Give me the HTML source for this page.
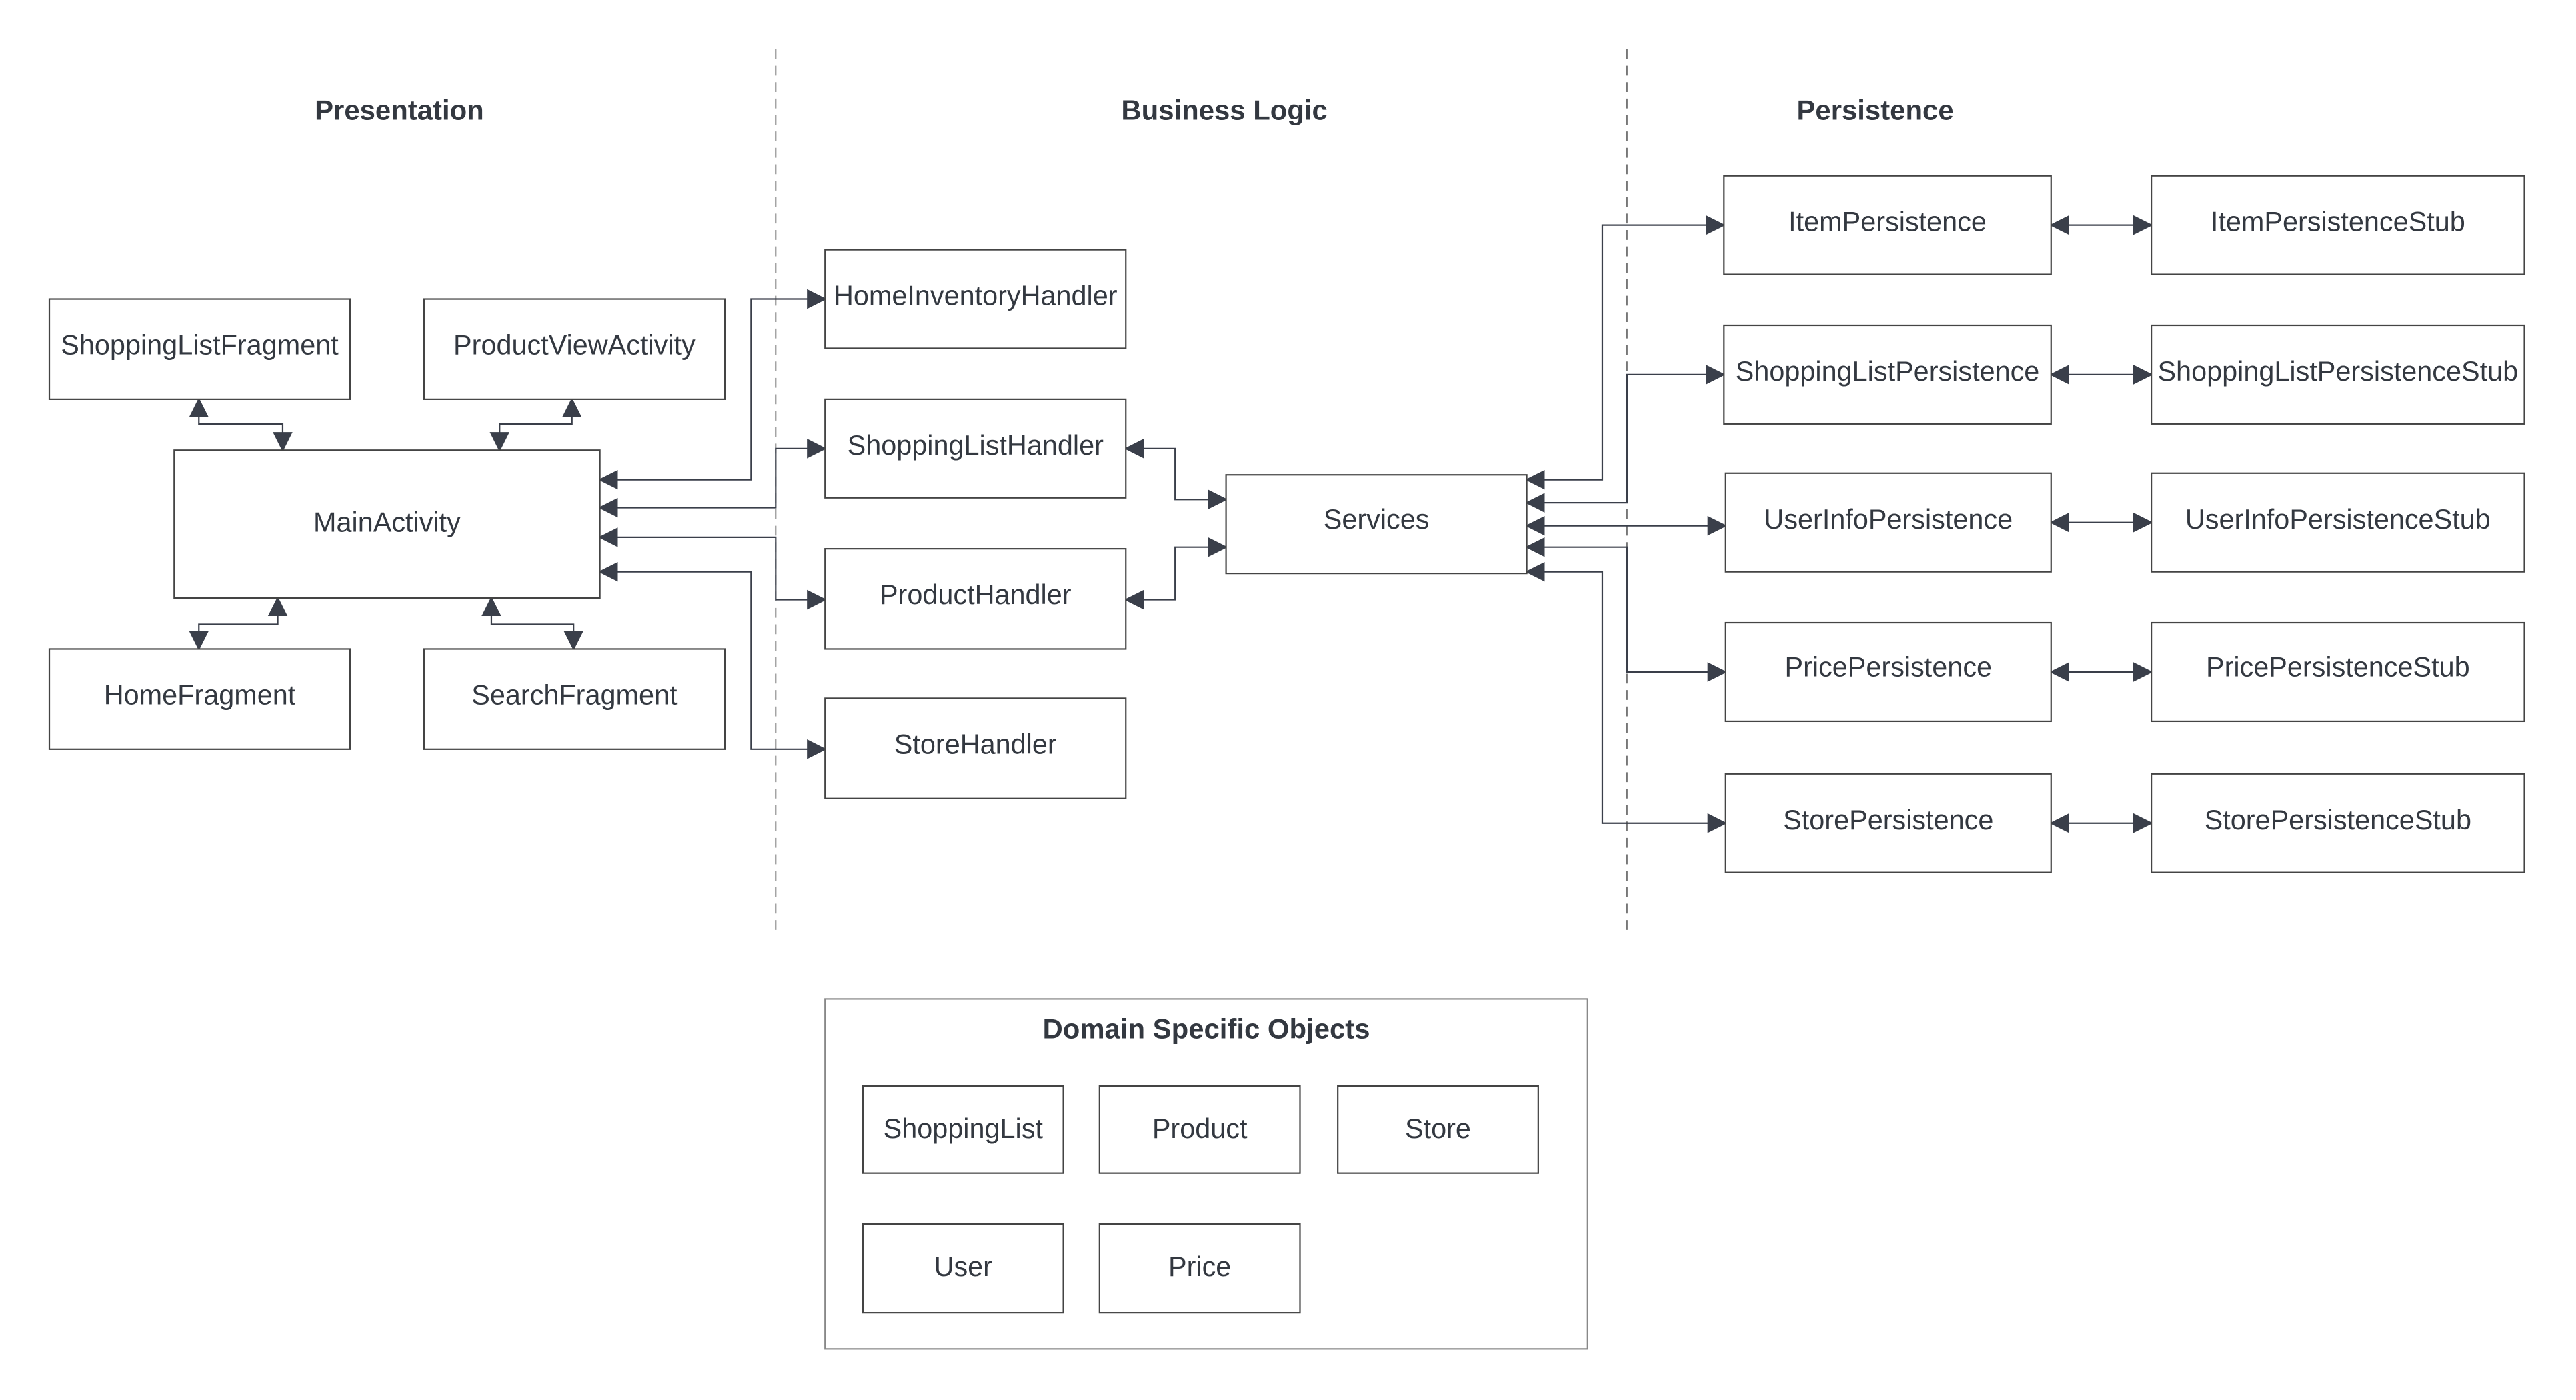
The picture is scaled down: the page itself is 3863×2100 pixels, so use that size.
<!DOCTYPE html>
<html><head><meta charset="utf-8"><style>
html,body{margin:0;padding:0;background:#fff;}
svg{display:block;}
text{font-family:"Liberation Sans",sans-serif;fill:#333840;}
.t{font-size:16.8px;text-anchor:middle;dominant-baseline:central;}
.h{font-size:17px;font-weight:bold;text-anchor:middle;dominant-baseline:central;}
rect{fill:#fff;stroke:#444;stroke-width:0.9;}
.c{fill:none;stroke:#3a3f4a;stroke-width:0.9;}
</style></head><body>
<svg width="3863" height="2100" viewBox="0 0 1567.4 852.1" xmlns="http://www.w3.org/2000/svg">
<defs>
<marker id="a" markerUnits="userSpaceOnUse" markerWidth="12" markerHeight="14" refX="11" refY="6" orient="auto-start-reverse" viewBox="0 0 12 12">
<path d="M0,0 L12,6 L0,12 Z" fill="#3a3f4a"/></marker>
</defs>
<text class="h" x="243" y="67">Presentation</text>
<text class="h" x="745" y="67">Business Logic</text>
<text class="h" x="1141" y="67">Persistence</text>
<line x1="472" y1="30" x2="472" y2="570" stroke="#777" stroke-width="0.8" stroke-dasharray="6,4"/>
<line x1="990" y1="30" x2="990" y2="570" stroke="#777" stroke-width="0.8" stroke-dasharray="6,4"/>

<path class="c" marker-start="url(#a)" marker-end="url(#a)" d="M121,243 V258 H172 V274"/>
<path class="c" marker-start="url(#a)" marker-end="url(#a)" d="M348,243 V258 H304 V274"/>
<path class="c" marker-start="url(#a)" marker-end="url(#a)" d="M169,364 V380 H121 V395"/>
<path class="c" marker-start="url(#a)" marker-end="url(#a)" d="M299,364 V380 H349 V395"/>
<path class="c" marker-start="url(#a)" marker-end="url(#a)" d="M365,292 H457 V182 H502"/>
<path class="c" marker-start="url(#a)" marker-end="url(#a)" d="M365,309 H472 V273 H502"/>
<path class="c" marker-start="url(#a)" marker-end="url(#a)" d="M365,327 H472 V365 H502"/>
<path class="c" marker-start="url(#a)" marker-end="url(#a)" d="M365,348 H457 V456 H502"/>
<path class="c" marker-start="url(#a)" marker-end="url(#a)" d="M685,273 H715 V304 H746"/>
<path class="c" marker-start="url(#a)" marker-end="url(#a)" d="M685,365 H715 V333 H746"/>
<path class="c" marker-start="url(#a)" marker-end="url(#a)" d="M929,292 H975 V137 H1049"/>
<path class="c" marker-start="url(#a)" marker-end="url(#a)" d="M929,306 H990 V228 H1049"/>
<path class="c" marker-start="url(#a)" marker-end="url(#a)" d="M929,320 H1050"/>
<path class="c" marker-start="url(#a)" marker-end="url(#a)" d="M929,333 H990 V409 H1050"/>
<path class="c" marker-start="url(#a)" marker-end="url(#a)" d="M929,348 H975 V501 H1050"/>
<path class="c" marker-start="url(#a)" marker-end="url(#a)" d="M1248,137 H1309"/>
<path class="c" marker-start="url(#a)" marker-end="url(#a)" d="M1248,228 H1309"/>
<path class="c" marker-start="url(#a)" marker-end="url(#a)" d="M1248,318 H1309"/>
<path class="c" marker-start="url(#a)" marker-end="url(#a)" d="M1248,409 H1309"/>
<path class="c" marker-start="url(#a)" marker-end="url(#a)" d="M1248,501 H1309"/>

<rect x="30" y="182" width="183" height="61"/><text class="t" x="121.5" y="210">ShoppingListFragment</text>
<rect x="258" y="182" width="183" height="61"/><text class="t" x="349.5" y="210">ProductViewActivity</text>
<rect x="106" y="274" width="259" height="90"/><text class="t" x="235.5" y="318">MainActivity</text>
<rect x="30" y="395" width="183" height="61"/><text class="t" x="121.5" y="423">HomeFragment</text>
<rect x="258" y="395" width="183" height="61"/><text class="t" x="349.5" y="423">SearchFragment</text>
<rect x="502" y="152" width="183" height="60"/><text class="t" x="593.5" y="180">HomeInventoryHandler</text>
<rect x="502" y="243" width="183" height="60"/><text class="t" x="593.5" y="271">ShoppingListHandler</text>
<rect x="502" y="334" width="183" height="61"/><text class="t" x="593.5" y="362">ProductHandler</text>
<rect x="502" y="425" width="183" height="61"/><text class="t" x="593.5" y="453">StoreHandler</text>
<rect x="746" y="289" width="183" height="60"/><text class="t" x="837.5" y="316">Services</text>
<rect x="1049" y="107" width="199" height="60"/><text class="t" x="1148.5" y="135">ItemPersistence</text>
<rect x="1049" y="198" width="199" height="60"/><text class="t" x="1148.5" y="226">ShoppingListPersistence</text>
<rect x="1050" y="288" width="198" height="60"/><text class="t" x="1149" y="316">UserInfoPersistence</text>
<rect x="1050" y="379" width="198" height="60"/><text class="t" x="1149" y="406">PricePersistence</text>
<rect x="1050" y="471" width="198" height="60"/><text class="t" x="1149" y="499">StorePersistence</text>
<rect x="1309" y="107" width="227" height="60"/><text class="t" x="1422.5" y="135">ItemPersistenceStub</text>
<rect x="1309" y="198" width="227" height="60"/><text class="t" x="1422.5" y="226">ShoppingListPersistenceStub</text>
<rect x="1309" y="288" width="227" height="60"/><text class="t" x="1422.5" y="316">UserInfoPersistenceStub</text>
<rect x="1309" y="379" width="227" height="60"/><text class="t" x="1422.5" y="406">PricePersistenceStub</text>
<rect x="1309" y="471" width="227" height="60"/><text class="t" x="1422.5" y="499">StorePersistenceStub</text>
<rect x="502" y="608" width="464" height="213" style="stroke:#888"/>
<text class="h" x="734" y="626">Domain Specific Objects</text>
<rect x="525" y="661" width="122" height="53"/><text class="t" x="586" y="687">ShoppingList</text>
<rect x="669" y="661" width="122" height="53"/><text class="t" x="730" y="687">Product</text>
<rect x="814" y="661" width="122" height="53"/><text class="t" x="875" y="687">Store</text>
<rect x="525" y="745" width="122" height="54"/><text class="t" x="586" y="771">User</text>
<rect x="669" y="745" width="122" height="54"/><text class="t" x="730" y="771">Price</text>
</svg>
</body></html>
